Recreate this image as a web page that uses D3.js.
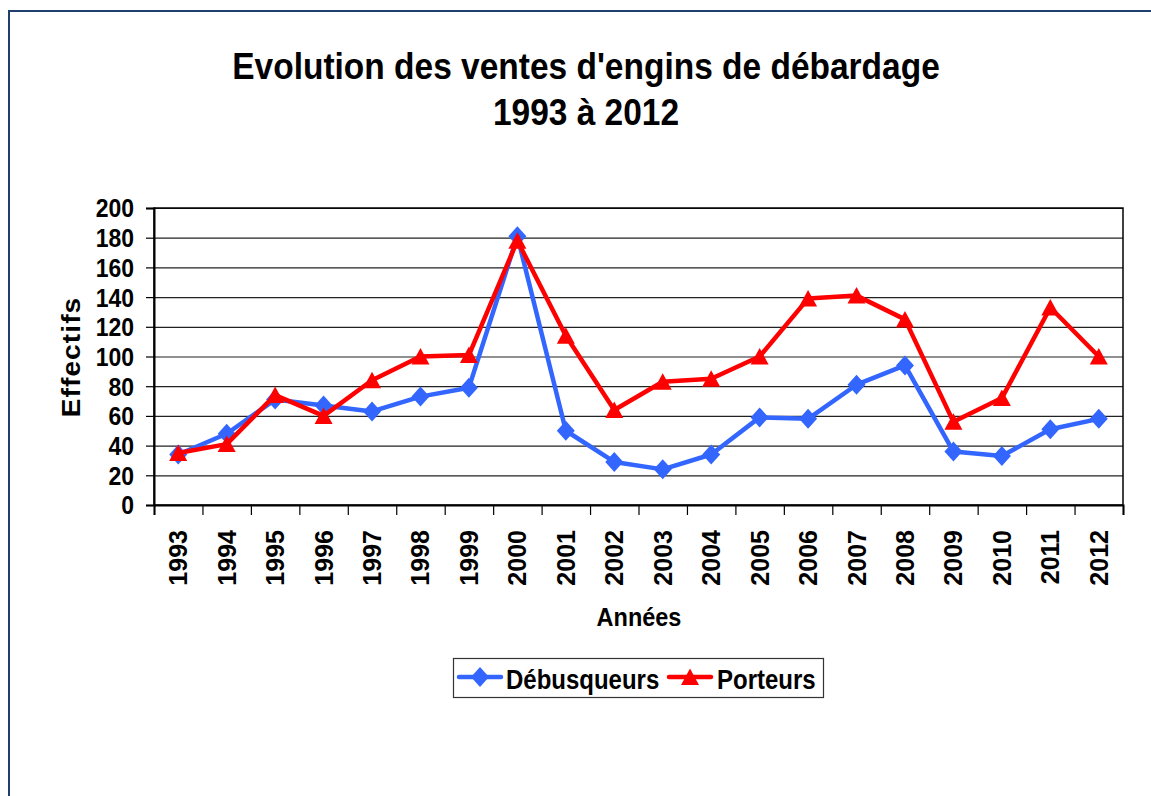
<!DOCTYPE html>
<html>
<head>
<meta charset="utf-8">
<script src="https://cdn.jsdelivr.net/npm/d3@7"></script>
<style>
  body { margin: 0; background: #fff; }
  text { font-family: Arial, "Liberation Sans", sans-serif; font-weight: bold; fill: #000; }
</style>
</head>
<body>
<svg id="chart"></svg>
<script>
let w = 1151;
let h = 796;

// data
let years = ["1993","1994","1995","1996","1997","1998","1999","2000","2001","2002",
             "2003","2004","2005","2006","2007","2008","2009","2010","2011","2012"];
let debusqueurs = [34, 48, 71, 67, 63, 73, 79, 181, 50, 29, 24, 34, 59, 58, 81, 94, 36, 33, 51, 58];
let porteurs = [35, 41, 74, 60, 84, 100, 101, 178, 114, 64, 83, 85, 100, 139, 141, 125, 56, 72, 133, 100];
let yTicks = [0, 20, 40, 60, 80, 100, 120, 140, 160, 180, 200];
let seriesNames = ["Débusqueurs", "Porteurs"];

let blue = "#3366ff";
let red = "#ff0000";
let stretch = 1.12; // glyphs in the source look a bit tall

let svg = d3.select("#chart").attr("width", w).attr("height", h);

// outer frame (right/bottom run off the picture)
svg.append("rect")
  .attr("x", 9).attr("y", 11)
  .attr("width", 1160).attr("height", 820)
  .attr("fill", "none")
  .attr("stroke", "#1f3f6f")
  .attr("stroke-width", 2);

function label(x, y, txt, size, anchor) {
  return svg.append("text")
    .attr("transform", `translate(${x},${y}) scale(1,${stretch})`)
    .attr("text-anchor", anchor || "middle")
    .style("font-size", size + "px")
    .text(txt);
}

// title
label(586, 79, "Evolution des ventes d'engins de débardage", 33.5);
label(586, 125, "1993 à 2012", 33.5);

let plotLeft = 154, plotRight = 1123, plotTop = 208, plotBottom = 505;

let xScale = d3.scaleBand().domain(years).range([plotLeft, plotRight]).padding(0);
let xEdge = d3.scaleLinear().domain([0, years.length]).range([plotLeft, plotRight]);
let yScale = d3.scaleLinear().domain([0, 200]).range([plotBottom, plotTop]);

// gridlines
svg.append("g")
  .selectAll("line")
  .data(yTicks)
  .join("line")
  .attr("x1", plotLeft).attr("x2", plotRight)
  .attr("y1", d => yScale(d) + 0.5).attr("y2", d => yScale(d) + 0.5)
  .attr("stroke", "#222")
  .attr("stroke-width", 1.2);

// plot border
svg.append("rect")
  .attr("x", plotLeft).attr("y", plotTop)
  .attr("width", plotRight - plotLeft).attr("height", plotBottom - plotTop)
  .attr("fill", "none")
  .attr("stroke", "#000")
  .attr("stroke-width", 1.5);

// y axis
let yAxis = d3.axisLeft(yScale).tickValues(yTicks).tickSize(8).tickPadding(12);
let yAxisGroup = svg.append("g")
  .attr("transform", `translate(${plotLeft},0)`)
  .call(yAxis);
yAxisGroup.select(".domain").attr("stroke", "#000").attr("stroke-width", 2);
yAxisGroup.selectAll(".tick line").attr("stroke", "#000").attr("stroke-width", 1.2);
yAxisGroup.selectAll(".tick text")
  .attr("font-size", null)
  .attr("font-family", null)
  .style("font-size", "23px")
  .attr("dy", null)
  .attr("y", 8)
  .attr("transform", `scale(1,${stretch})`);

// x axis: ticks at category boundaries, labels at centres
let xTickAxis = d3.axisBottom(xEdge).tickValues(d3.range(0, years.length + 1)).tickSize(10).tickFormat("");
let xTickGroup = svg.append("g")
  .attr("transform", `translate(0,${plotBottom})`)
  .call(xTickAxis);
xTickGroup.select(".domain").attr("stroke", "#000").attr("stroke-width", 2);
xTickGroup.selectAll(".tick line").attr("stroke", "#000").attr("stroke-width", 1.2);

let xAxis = d3.axisBottom(xScale).tickSize(0).tickPadding(0);
let xAxisGroup = svg.append("g")
  .attr("transform", `translate(0,${plotBottom})`)
  .call(xAxis);
xAxisGroup.select(".domain").remove();
xAxisGroup.selectAll(".tick text")
  .attr("font-size", null)
  .attr("font-family", null)
  .style("font-size", "25px")
  .attr("text-anchor", "end")
  .attr("dy", null)
  .attr("y", 0)
  .attr("transform", "translate(9,25) rotate(-90)");

// axis titles
svg.append("text")
  .attr("transform", `translate(80,357) rotate(-90) scale(${stretch},1)`)
  .attr("text-anchor", "middle")
  .style("font-size", "25px")
  .style("letter-spacing", "1px")
  .text("Effectifs");
label(639, 626, "Années", 23.5);

// markers
let diamond = "M0,-10L9,0L0,10L-9,0Z";
let triangle = "M0,-8.5L9,8L-9,8Z";

function drawSeries(values, color, shape) {
  let pts = years.map((y, i) => ({ year: y, value: values[i] }));
  svg.append("path")
    .datum(pts)
    .attr("fill", "none")
    .attr("stroke", color)
    .attr("stroke-width", 4.5)
    .attr("stroke-linejoin", "round")
    .attr("d", d3.line()
      .x(d => xScale(d.year) + xScale.bandwidth() / 2)
      .y(d => yScale(d.value)));
  svg.append("g")
    .selectAll("path")
    .data(pts)
    .join("path")
    .attr("d", shape)
    .attr("fill", color)
    .attr("transform", d => `translate(${xScale(d.year) + xScale.bandwidth() / 2},${yScale(d.value)})`);
}

drawSeries(debusqueurs, blue, diamond);
drawSeries(porteurs, red, triangle);

// legend
let legend = svg.append("g");
legend.append("rect")
  .attr("x", 453.5).attr("y", 658.5)
  .attr("width", 370).attr("height", 39)
  .attr("fill", "#fff")
  .attr("stroke", "#333")
  .attr("stroke-width", 1.2);

let legendItems = [
  { name: seriesNames[0], color: blue, shape: diamond, x0: 459, tx: 506 },
  { name: seriesNames[1], color: red, shape: triangle, x0: 669, tx: 717 }
];
legendItems.forEach(it => {
  legend.append("line")
    .attr("x1", it.x0).attr("x2", it.x0 + 42)
    .attr("y1", 677).attr("y2", 677)
    .attr("stroke", it.color)
    .attr("stroke-width", 4.5)
    .attr("stroke-linecap", "round");
  legend.append("path")
    .attr("d", it.shape)
    .attr("fill", it.color)
    .attr("transform", `translate(${it.x0 + 21},677)`);
  legend.append("text")
    .attr("transform", `translate(${it.tx},689) scale(1,${stretch})`)
    .style("font-size", "24px")
    .text(it.name);
});
</script>
</body>
</html>
